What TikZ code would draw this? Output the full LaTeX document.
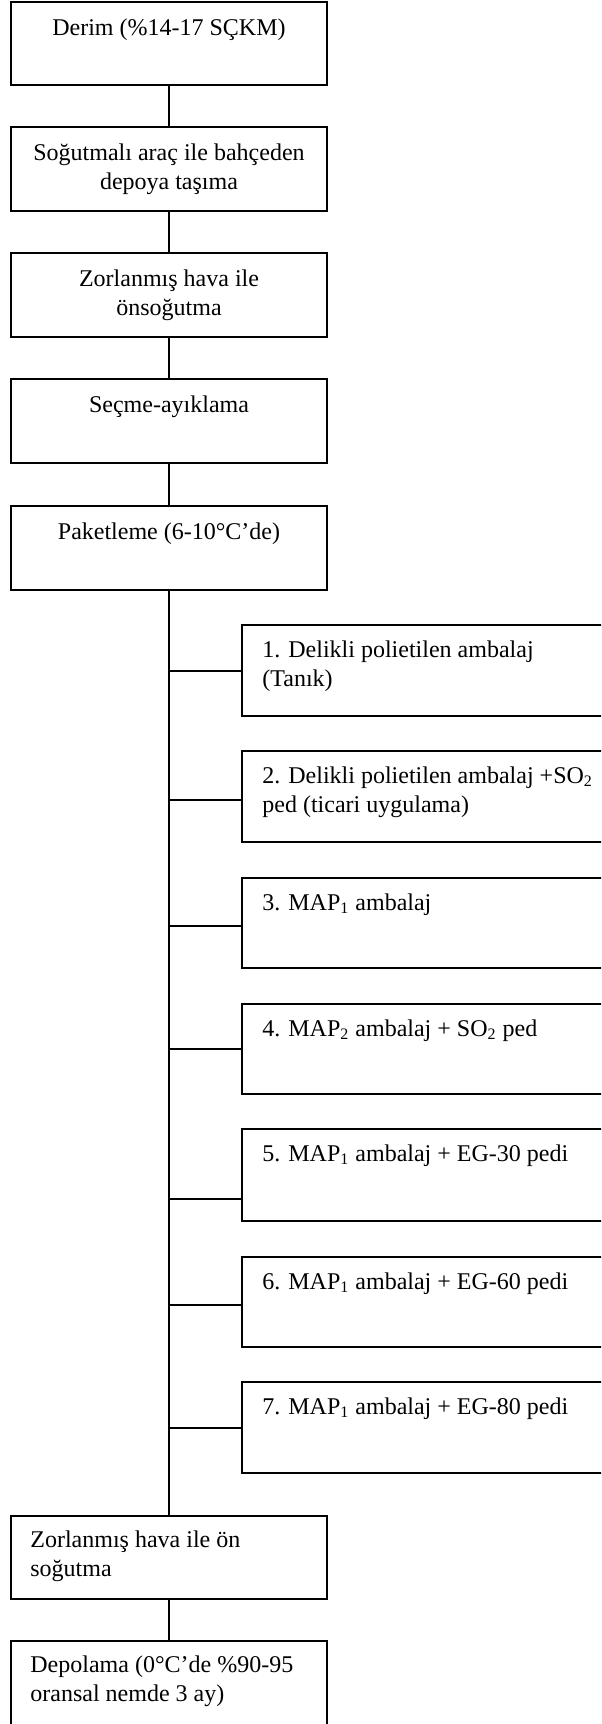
\documentclass[tikz,border=0pt]{standalone}
\usepackage{fontspec}
\setmainfont{Liberation Serif}
\newcommand{\linesc}[1]{\begin{tabular}[t]{@{}c@{}}#1\end{tabular}}
\newcommand{\linesl}[1]{\begin{tabular}[t]{@{}l@{}}#1\end{tabular}}
\tikzset{
  box/.style={draw, line width=1pt, inner sep=0pt, outer sep=0pt, anchor=north west},
  mainbox/.style={box, minimum width=158pt, minimum height=42pt},
  sidebox/.style={box, minimum width=199pt, minimum height=45.5pt},
  txt/.style={inner sep=0pt, font=\fontsize{12}{14.5}\selectfont},
  ctxt/.style={txt, anchor=base},
  ltxt/.style={txt, anchor=base west},
  conn/.style={line width=1pt}
}
\begin{document}
\begin{tikzpicture}[x=0.5pt,y=-0.5pt]
\useasboundingbox (0,0) rectangle (601,1724);
\clip (0,0) rectangle (601,1724);
\fill[white] (0,0) rectangle (601,1724);
% main column
\node[mainbox, minimum height=41.5pt] (m1) at (11,2) {};
\node[mainbox] (m2) at (11,127) {};
\node[mainbox] (m3) at (11,253) {};
\node[mainbox] (m4) at (11,379) {};
\node[mainbox] (m5) at (11,506) {};
\node[ctxt] (t1) at (169,35) {\linesc{Derim (\%14-17 SÇKM)}};
\node[ctxt] (t2) at (169,160) {\linesc{Soğutmalı araç ile bahçeden\\depoya taşıma}};
\node[ctxt] (t3) at (169,286) {\linesc{Zorlanmış hava ile\\önsoğutma}};
\node[ctxt] (t4) at (169,412) {\linesc{Seçme-ayıklama}};
\node[ctxt] (t5) at (169,539) {\linesc{Paketleme (6-10°C’de)}};
% side boxes
\node[sidebox] (r1) at (242,625) {};
\node[sidebox] (r2) at (242,751) {};
\node[sidebox, minimum height=45pt] (r3) at (242,878) {};
\node[sidebox, minimum height=45pt] (r4) at (242,1004) {};
\node[sidebox, minimum height=46pt] (r5) at (242,1129) {};
\node[sidebox, minimum height=45pt] (r6) at (242,1257) {};
\node[sidebox] (r7) at (242,1382) {};
\node[ltxt] (s1) at (262,657) {\linesl{1. Delikli polietilen ambalaj\\(Tanık)}};
\node[ltxt] (s2) at (262,783) {\linesl{2. Delikli polietilen ambalaj +SO\textsubscript{2}\\ped (ticari uygulama)}};
\node[ltxt] (s3) at (262,910) {\linesl{3. MAP\textsubscript{1} ambalaj}};
\node[ltxt] (s4) at (262,1036) {\linesl{4. MAP\textsubscript{2} ambalaj + SO\textsubscript{2} ped}};
\node[ltxt] (s5) at (262,1161) {\linesl{5. MAP\textsubscript{1} ambalaj + EG-30 pedi}};
\node[ltxt] (s6) at (262,1289) {\linesl{6. MAP\textsubscript{1} ambalaj + EG-60 pedi}};
\node[ltxt] (s7) at (262,1414) {\linesl{7. MAP\textsubscript{1} ambalaj + EG-80 pedi}};
% bottom boxes
\node[mainbox, minimum height=41.5pt] (b1) at (11,1516) {};
\node[mainbox, minimum height=60pt] (b2) at (11,1641) {};
\node[ltxt] (u1) at (30,1547) {\linesl{Zorlanmış hava ile ön\\soğutma}};
\node[ltxt] (u2) at (30,1672) {\linesl{Depolama (0°C’de \%90-95\\oransal nemde 3 ay)}};
% connectors
\draw[conn] (m1.south) -- (m2.north);
\draw[conn] (m2.south) -- (m3.north);
\draw[conn] (m3.south) -- (m4.north);
\draw[conn] (m4.south) -- (m5.north);
\draw[conn] (m5.south) -- (b1.north);
\draw[conn] (b1.south) -- (b2.north);
\coordinate (j1) at (169,671);
\coordinate (j2) at (169,800);
\coordinate (j3) at (169,926);
\coordinate (j4) at (169,1049);
\coordinate (j5) at (169,1199);
\coordinate (j6) at (169,1305);
\coordinate (j7) at (169,1428);
\draw[conn] (j1) -- (j1 -| r1.west);
\draw[conn] (j2) -- (j2 -| r2.west);
\draw[conn] (j3) -- (j3 -| r3.west);
\draw[conn] (j4) -- (j4 -| r4.west);
\draw[conn] (j5) -- (j5 -| r5.west);
\draw[conn] (j6) -- (j6 -| r6.west);
\draw[conn] (j7) -- (j7 -| r7.west);
\end{tikzpicture}
\end{document}
